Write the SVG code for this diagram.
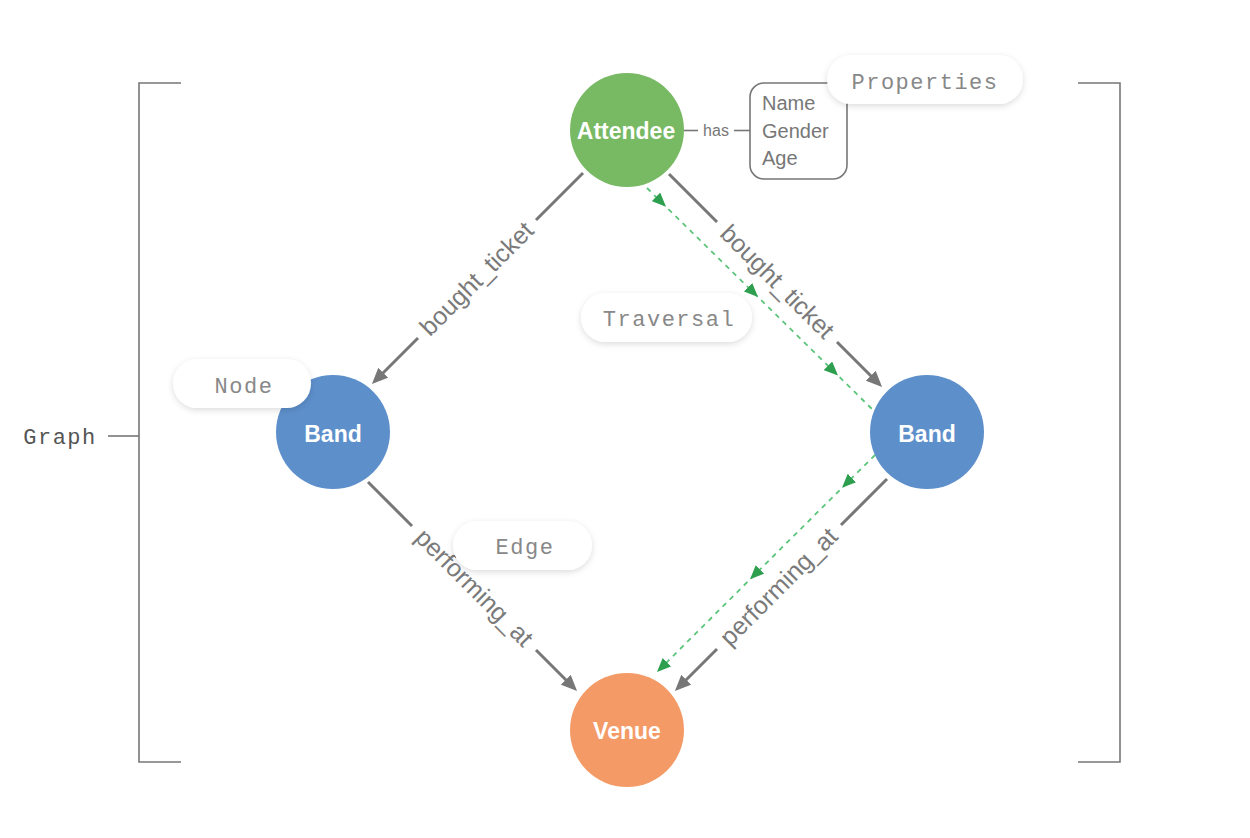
<svg xmlns="http://www.w3.org/2000/svg" width="1250" height="838" viewBox="0 0 1250 838">
  <style>
    .edge { stroke: #777; stroke-width: 3; fill: none; }
    .elabel { font-family: "Liberation Sans", Arial, sans-serif; font-size: 25px; fill: #7a7a7a; text-anchor: middle; }
    .trav { stroke: #5cc47a; stroke-width: 1.8; stroke-dasharray: 5 5; fill: none; }
    .ntext { font-family: "Liberation Sans", Arial, sans-serif; font-size: 23px; font-weight: bold; fill: #fff; text-anchor: middle; }
    .mono { font-family: "Liberation Mono", "DejaVu Sans Mono", monospace; font-size: 22px; letter-spacing: 1.5px; fill: #888; text-anchor: middle; }
    .pill { fill: #fff; filter: url(#shadow); }
    .thin { stroke: #777; stroke-width: 1.6; fill: none; }
    .prop { font-family: "Liberation Sans", Arial, sans-serif; font-size: 20px; fill: #777; }
  </style>
  <defs>
    <marker id="arrow" markerUnits="userSpaceOnUse" viewBox="0 0 16 14" markerWidth="16" markerHeight="14" refX="6" refY="7" orient="auto">
      <path d="M0,0 L16,7 L0,14 z" fill="#777"/>
    </marker>
    <marker id="tmid" markerUnits="userSpaceOnUse" viewBox="0 0 14 12" markerWidth="14" markerHeight="12" refX="7" refY="6" orient="auto">
      <path d="M0,0 L14,6 L0,12 z" fill="#2e9e4f"/>
    </marker>
    <marker id="tend" markerUnits="userSpaceOnUse" viewBox="0 0 14 12" markerWidth="14" markerHeight="12" refX="14" refY="6" orient="auto">
      <path d="M0,0 L14,6 L0,12 z" fill="#2e9e4f"/>
    </marker>
    <filter id="shadow" x="-20%" y="-30%" width="140%" height="170%">
      <feDropShadow dx="0" dy="2" stdDeviation="3" flood-color="#000" flood-opacity="0.14"/>
    </filter>
  </defs>
  <rect width="1250" height="838" fill="#fff"/>

  <!-- Graph bracket -->
  <g id="graph-bracket">
    <path class="thin" d="M181,83 H139 V762 H181"/>
    <path class="thin" d="M1078,83 H1120 V762 H1078"/>
    <path class="thin" d="M108,436 H139"/>
    <text x="60" y="444" class="mono" style="fill:#555">Graph</text>
  </g>

  <!-- connectors -->
  <g id="connectors">
    <path class="edge" d="M583,173 L536,220"/>
    <path class="edge" d="M418,338 L379,377" marker-end="url(#arrow)"/>
    <text class="elabel" transform="translate(477,279) rotate(-45)" dy="8">bought_ticket</text>

    <path class="edge" d="M669,174 L717,222"/>
    <path class="edge" d="M837,342 L875,380" marker-end="url(#arrow)"/>
    <text class="elabel" transform="translate(777,282) rotate(45)" dy="8">bought_ticket</text>

    <path class="edge" d="M368,482 L412,526"/>
    <path class="edge" d="M536,650 L570,684" marker-end="url(#arrow)"/>
    <text class="elabel" transform="translate(474,588) rotate(45)" dy="8">performing_at</text>

    <path class="edge" d="M887,479 L841,525"/>
    <path class="edge" d="M717,649 L682,684" marker-end="url(#arrow)"/>
    <text class="elabel" transform="translate(779,587) rotate(-45)" dy="8">performing_at</text>

    <path class="trav" d="M647,188 L661,201.8 L753,292.1 L833,370.7 L874,411" marker-mid="url(#tmid)"/>
    <path class="trav" d="M875,455 L847,482.9 L755,574.4 L657,672" marker-mid="url(#tmid)" marker-end="url(#tend)"/>

    <path class="thin" d="M684,130.5 H698"/>
    <text x="716" y="136" style="font-family:'Liberation Sans',Arial,sans-serif;font-size:16px;fill:#777;text-anchor:middle">has</text>
    <path class="thin" d="M734,130.5 H750"/>
  </g>

  <!-- nodes -->
  <g id="node-attendee">
    <circle cx="627" cy="130" r="57" fill="#78b964"/>
    <text x="626" y="139" class="ntext">Attendee</text>
  </g>
  <g id="node-band-left">
    <circle cx="333" cy="432" r="57" fill="#5d8fcb"/>
    <text x="333" y="442" class="ntext">Band</text>
  </g>
  <g id="node-band-right">
    <circle cx="927" cy="432" r="57" fill="#5d8fcb"/>
    <text x="927" y="442" class="ntext">Band</text>
  </g>
  <g id="node-venue">
    <circle cx="627" cy="730" r="57" fill="#f49a66"/>
    <text x="627" y="739" class="ntext">Venue</text>
  </g>
  <g id="node-properties">
    <rect x="750" y="83" width="97" height="96" rx="14" class="thin"/>
    <text x="762" y="110" class="prop">Name</text>
    <text x="762" y="138" class="prop">Gender</text>
    <text x="762" y="165" class="prop">Age</text>
  </g>

  <!-- annotation pills -->
  <g id="label-properties">
    <rect x="827" y="55" width="196" height="49" rx="24.5" class="pill"/>
    <text x="925" y="89" class="mono">Properties</text>
  </g>
  <g id="label-node">
    <rect x="173" y="359" width="138" height="49" rx="24.5" class="pill"/>
    <text x="244" y="393" class="mono">Node</text>
  </g>
  <g id="label-traversal">
    <rect x="581" y="293" width="171" height="49" rx="24.5" class="pill"/>
    <text x="669" y="326" class="mono">Traversal</text>
  </g>
  <g id="label-edge">
    <rect x="453" y="521" width="139" height="49" rx="24.5" class="pill"/>
    <text x="525" y="554" class="mono">Edge</text>
  </g>
</svg>
